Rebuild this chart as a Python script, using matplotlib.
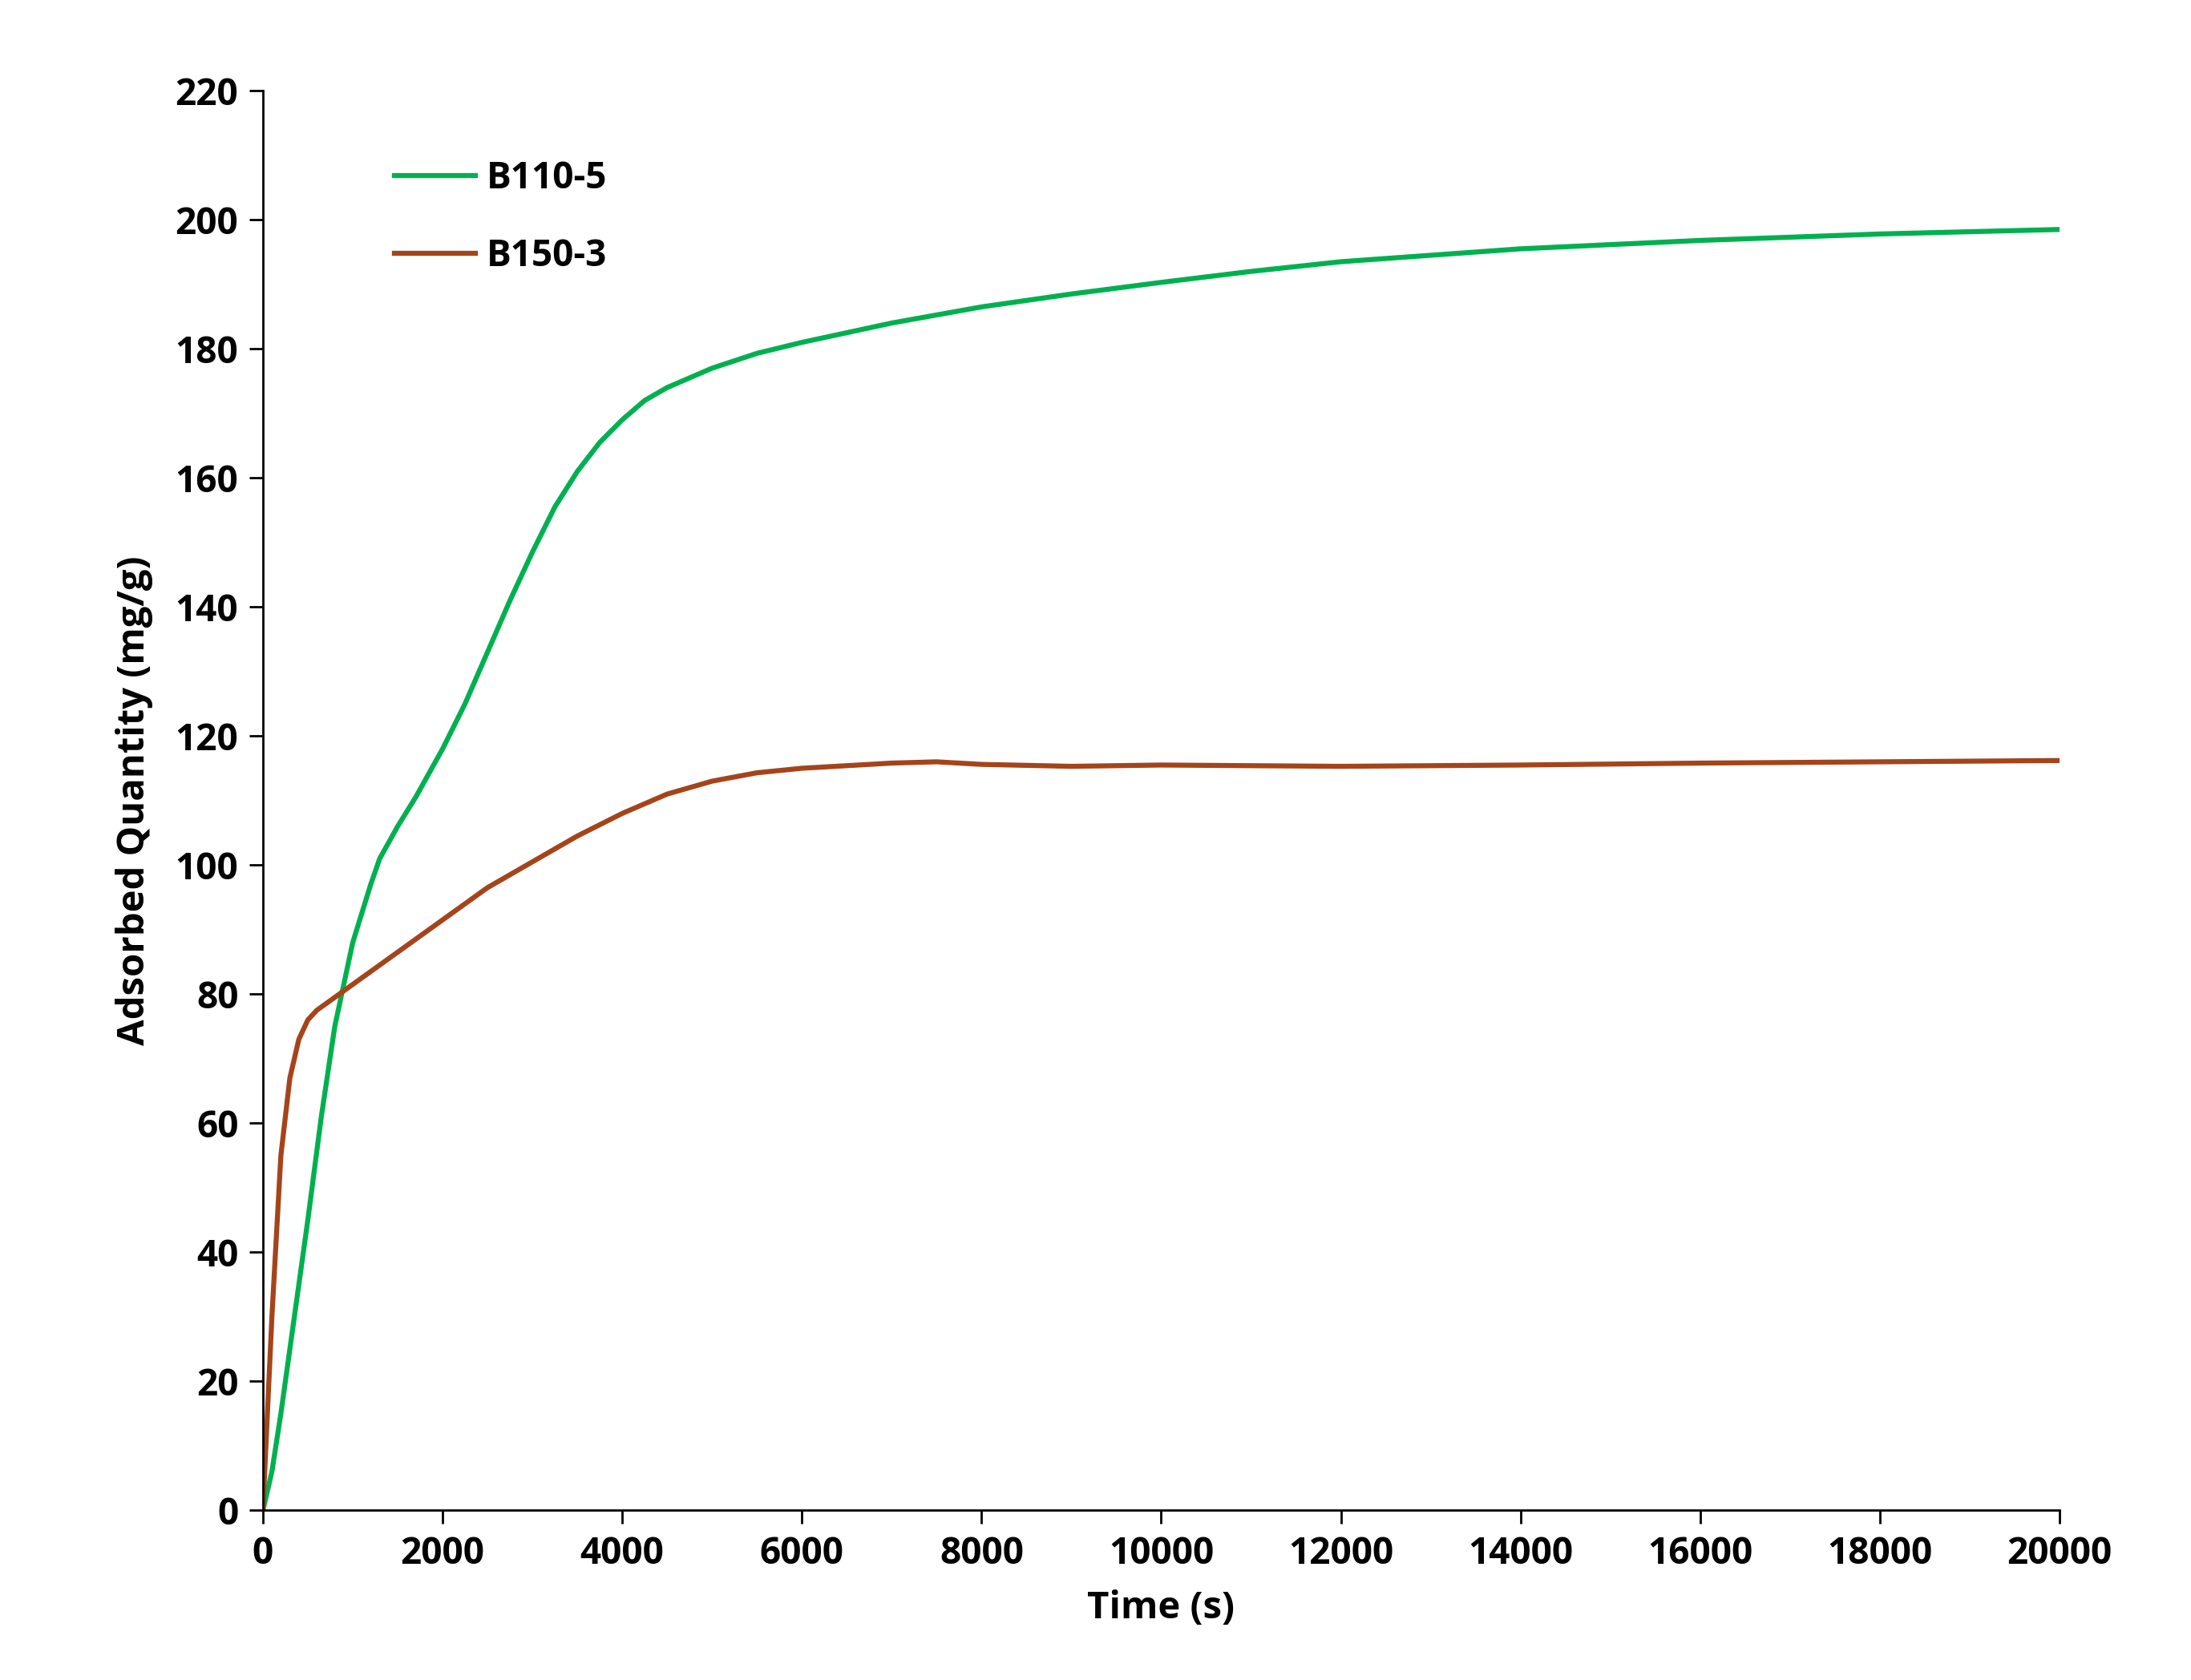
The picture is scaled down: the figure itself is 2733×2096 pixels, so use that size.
import matplotlib
matplotlib.use("Agg")
import matplotlib.pyplot as plt
import numpy as np

t_green = [0, 100, 200, 350, 500, 650, 800, 1000, 1200, 1300, 1500, 1700, 2000, 2250, 2500, 2750, 3000, 3250, 3500, 3750, 4000, 4250, 4500, 5000, 5500, 6000, 7000, 8000, 9000, 10000, 11000, 12000, 13000, 14000, 16000, 18000, 20000]
q_green = [0, 6, 15, 30, 45, 61, 75, 88, 97, 101, 106, 110.5, 118, 125, 133, 141, 148.5, 155.5, 161, 165.5, 169, 172, 174, 177, 179.3, 181, 184, 186.5, 188.5, 190.3, 192, 193.5, 194.5, 195.5, 196.8, 197.8, 198.5]
t_brown = [0, 50, 100, 200, 300, 400, 500, 600, 700, 800, 1000, 1500, 2000, 2500, 3000, 3500, 4000, 4500, 5000, 5500, 6000, 7000, 7500, 8000, 9000, 10000, 12000, 14000, 16000, 18000, 20000]
q_brown = [0, 15, 30, 55, 67, 73, 76, 77.5, 78.5, 79.5, 81.5, 86.5, 91.5, 96.5, 100.5, 104.5, 108, 111, 113, 114.3, 115, 115.8, 116, 115.6, 115.3, 115.5, 115.3, 115.5, 115.8, 116, 116.2]

plt.rcParams['font.family'] = ['Open Sans', 'DejaVu Sans']
plt.rcParams['font.weight'] = 'bold'
fig = plt.figure(figsize=(27.33, 20.96), dpi=100)
ax = fig.add_axes([0.120, 0.101, 0.820, 0.845])
ax.plot(t_green, q_green, color='#00B050', lw=4.5, label='B110-5')
ax.plot(t_brown, q_brown, color='#A5441A', lw=4.5, label='B150-3')
ax.set_xlim(0, 20000)
ax.set_ylim(0, 220)
ax.set_xticks(np.arange(0, 20001, 2000))
ax.set_yticks(np.arange(0, 221, 20))
for s in ['top', 'right']:
    ax.spines[s].set_visible(False)
for s in ['left', 'bottom']:
    ax.spines[s].set_linewidth(2)
ax.tick_params(labelsize=33, width=2, length=12, direction='out', pad=10)
for lab in ax.get_xticklabels() + ax.get_yticklabels():
    lab.set_fontweight('bold')
ax.set_xlabel('Time (s)', fontsize=34, fontweight='bold', labelpad=15)
ax.set_ylabel('Adsorbed Quantity (mg/g)', fontsize=34, fontweight='bold', labelpad=20)
leg = ax.legend(loc='upper left', bbox_to_anchor=(0.055, 0.975), frameon=False,
                prop={'size': 33, 'weight': 'bold'}, handlelength=2.2, labelspacing=1.1, handletextpad=0.3)
fig.savefig('out.png', dpi=100)
